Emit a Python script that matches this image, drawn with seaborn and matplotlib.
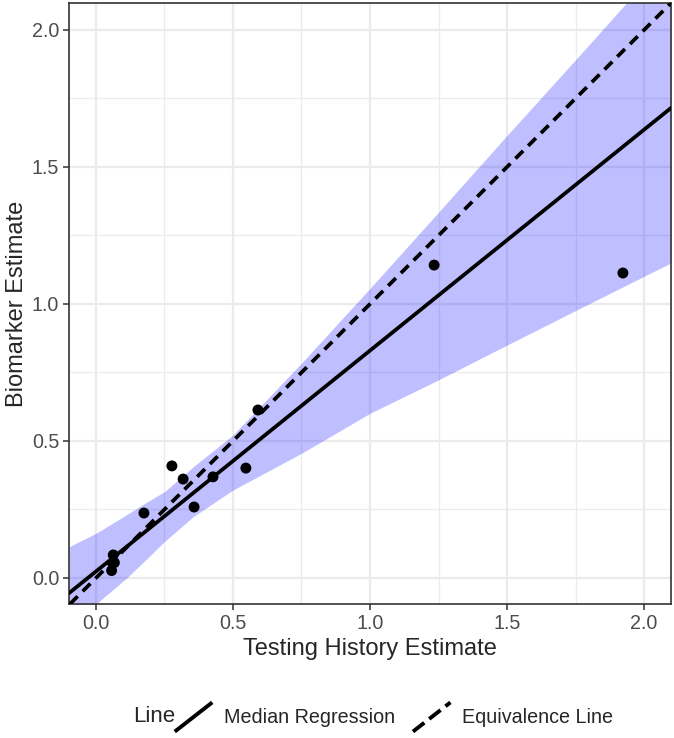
import numpy as np
import pandas as pd
import matplotlib
matplotlib.use("Agg")
import matplotlib.pyplot as plt
import seaborn as sns
from matplotlib.lines import Line2D
from matplotlib.legend_handler import HandlerBase

# ---- data ----
testing_history = [0.057, 0.067, 0.063, 0.175, 0.277, 0.318, 0.358, 0.427, 0.547, 0.591, 1.234, 1.923]
biomarker = [0.027, 0.056, 0.084, 0.237, 0.409, 0.361, 0.259, 0.369, 0.401, 0.613, 1.142, 1.113]

median_intercept = 0.024
median_slope = 0.806
equiv_intercept = 0.0
equiv_slope = 1.0

band_x = [-0.0985, 0.0, 0.112, 0.179, 0.25, 0.355, 0.5, 0.75, 1.0, 1.25, 1.5, 1.766, 2.0985]
band_upper = [0.114, 0.163, 0.231, 0.273, 0.315, 0.406, 0.522, 0.784, 1.057, 1.335, 1.615, 1.909, 2.28]
band_lower = [-0.19, -0.095, 0.0, 0.064, 0.133, 0.224, 0.321, 0.455, 0.601, 0.723, 0.85, 0.984, 1.15]

x_ticks = [0.0, 0.5, 1.0, 1.5, 2.0]
y_ticks = [0.0, 0.5, 1.0, 1.5, 2.0]
x_lim = (-0.0985, 2.0985)
y_lim = (-0.095, 2.0985)

df = pd.DataFrame({"x": testing_history, "y": biomarker})

sns.set_theme(style="white")
plt.rcParams["font.family"] = ["Liberation Sans", "DejaVu Sans"]

fig = plt.figure(figsize=(6.74, 7.38), dpi=100)
ax = fig.add_axes([69 / 674, 1 - 604 / 738, (671 - 69) / 674, (604 - 3) / 738])

# grid
for v in np.arange(-0.25, 2.3, 0.25):
    major = abs(v * 2 - round(v * 2)) < 1e-9
    ax.axvline(v, color="#EBEBEB", lw=1.6 if major else 0.9, zorder=0)
    ax.axhline(v, color="#EBEBEB", lw=1.6 if major else 0.9, zorder=0)

ax.fill_between(band_x, band_lower, band_upper, color="#0000FF", alpha=0.25, lw=0, zorder=1)

sns.scatterplot(data=df, x="x", y="y", ax=ax, color="black", s=62, edgecolor="none", zorder=2)

dash = (0, (2.9, 1.9))
ax.axline((0, median_intercept), slope=median_slope, color="black", lw=2.7, zorder=3)
ax.axline((0, equiv_intercept), slope=equiv_slope, color="black", lw=2.7, ls=dash, zorder=3)

ax.set_xlim(*x_lim)
ax.set_ylim(*y_lim)
ax.set_xticks(x_ticks)
ax.set_yticks(y_ticks)
ax.set_xticklabels([f"{t:.1f}" for t in x_ticks], fontsize=14.2, color="#4D4D4D")
ax.set_yticklabels([f"{t:.1f}" for t in y_ticks], fontsize=14.2, color="#4D4D4D")
ax.tick_params(axis="both", length=4, width=1.1, color="#333333", direction="out", pad=3,
               bottom=True, left=True)
for sp in ax.spines.values():
    sp.set_color("#333333")
    sp.set_linewidth(1.2)
    sp.set_visible(True)
ax.set_xlabel("Testing History Estimate", fontsize=17, labelpad=4)
ax.set_ylabel("Biomarker Estimate", fontsize=17, labelpad=3)


class DiagHandler(HandlerBase):
    def create_artists(self, legend, orig_handle, xdescent, ydescent, width, height, fontsize, trans):
        x0, y0 = -xdescent, -ydescent
        ln = Line2D([x0, x0 + width], [y0, y0 + height], color=orig_handle.get_color(),
                    lw=orig_handle.get_linewidth(), ls=orig_handle.get_linestyle(),
                    solid_capstyle="butt", dash_capstyle="butt")
        ln.set_transform(trans)
        return [ln]


h1 = Line2D([], [], color="black", lw=2.8, ls="-")
h2 = Line2D([], [], color="black", lw=2.8, ls=(0, (2.0, 2.6)))
leg = fig.legend([h1, h2], ["Median Regression", "Equivalence Line"], ncol=2,
                 loc="center", bbox_to_anchor=(394 / 674, 1 - 717 / 738), frameon=False,
                 fontsize=14.2, handlelength=1.9, handleheight=1.9, handletextpad=0.6,
                 columnspacing=0.9, handler_map={Line2D: DiagHandler()})
fig.text(133 / 674, 1 - 717 / 738, "Line", fontsize=16, ha="left", va="center")

fig.savefig("out.png", dpi=100)
